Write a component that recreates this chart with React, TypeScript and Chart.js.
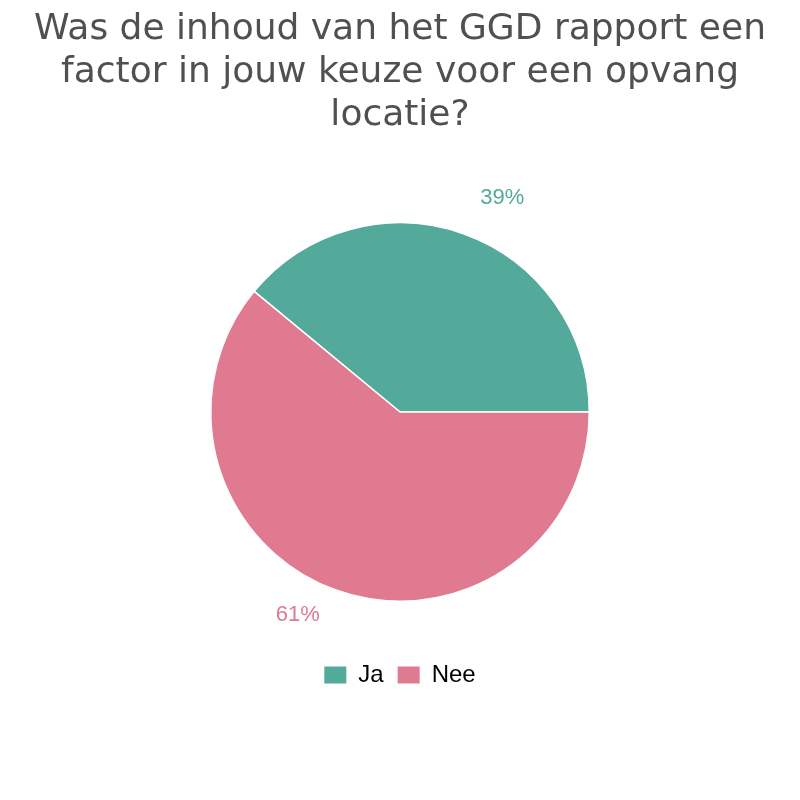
import { useEffect, useRef } from "react";
import Chart from "chart.js/auto";

const labels = ["Ja", "Nee"];
const values = [39, 61];
const colors = ["#53a99a", "#e07a91"];
const titleLines = [
  "Was de inhoud van het GGD rapport een",
  "factor in jouw keuze voor een opvang",
  "locatie?",
];

const labelFont = "'Liberation Sans', Arial, sans-serif";

// draws "39%" style labels outside each slice
const outsideLabels = {
  id: "outsideLabels",
  afterDatasetsDraw(chart: any) {
    const ctx = chart.ctx;
    const meta = chart.getDatasetMeta(0);
    const total = values.reduce((a, b) => a + b, 0);
    ctx.save();
    ctx.font = "22px " + labelFont;
    ctx.textAlign = "center";
    ctx.textBaseline = "middle";
    meta.data.forEach((arc: any, i: number) => {
      const { x, y, startAngle, endAngle, outerRadius } = arc.getProps(
        ["x", "y", "startAngle", "endAngle", "outerRadius"],
        true
      );
      const mid = (startAngle + endAngle) / 2 + 0.11;
      const r = outerRadius + 43;
      ctx.fillStyle = colors[i];
      ctx.fillText(
        Math.round((values[i] / total) * 100) + "%",
        x + Math.cos(mid) * r,
        y + Math.sin(mid) * r - 6
      );
    });
    ctx.restore();
  },
};

export default function App() {
  const canvasRef = useRef<HTMLCanvasElement | null>(null);
  const chartRef = useRef<Chart | null>(null);

  useEffect(() => {
    document.body.style.margin = "0";
    let cancelled = false;

    const build = () => {
      if (cancelled || !canvasRef.current) return;
      if (chartRef.current) chartRef.current.destroy();
      const baseLabels = (Chart as any).overrides.pie.plugins.legend.labels.generateLabels;
      chartRef.current = new Chart(canvasRef.current, {
        type: "pie",
        data: {
          labels,
          datasets: [
            {
              data: values,
              backgroundColor: colors,
              borderColor: "#ffffff",
              borderWidth: 1.5,
            },
          ],
        },
        options: {
          responsive: false,
          animation: false,
          rotation: -50.4,
          layout: { padding: { bottom: 103 } },
          plugins: {
            title: {
              display: true,
              text: titleLines,
              color: "#505050",
              font: { family: "'DejaVu Sans', sans-serif", size: 36, weight: "normal", lineHeight: 1.2 },
              padding: { top: 8, bottom: 84.4 },
            },
            legend: {
              position: "bottom",
              title: {
                display: true,
                text: " ",
                color: "rgba(0,0,0,0)",
                font: { size: 10, lineHeight: 1.2 },
                padding: { top: 35, bottom: 0 },
              },
              labels: {
                boxWidth: 22,
                boxHeight: 17,
                padding: 14,
                color: "#000000",
                font: { family: labelFont, size: 24 },
                generateLabels: (chart: any) =>
                  baseLabels(chart).map((l: any) => ({ ...l, lineWidth: 0 })),
              },
            },
            tooltip: { enabled: false },
          },
        },
        plugins: [outsideLabels],
      });
    };

    Promise.all([
      document.fonts.load("24px 'Liberation Sans'"),
      document.fonts.load("36px 'DejaVu Sans'"),
    ])
      .catch(() => null)
      .then(build);

    return () => {
      cancelled = true;
      if (chartRef.current) {
        chartRef.current.destroy();
        chartRef.current = null;
      }
    };
  }, []);

  return (
    <div style={{ width: 800, height: 800 }}>
      <canvas ref={canvasRef} width={800} height={800}></canvas>
    </div>
  );
}
